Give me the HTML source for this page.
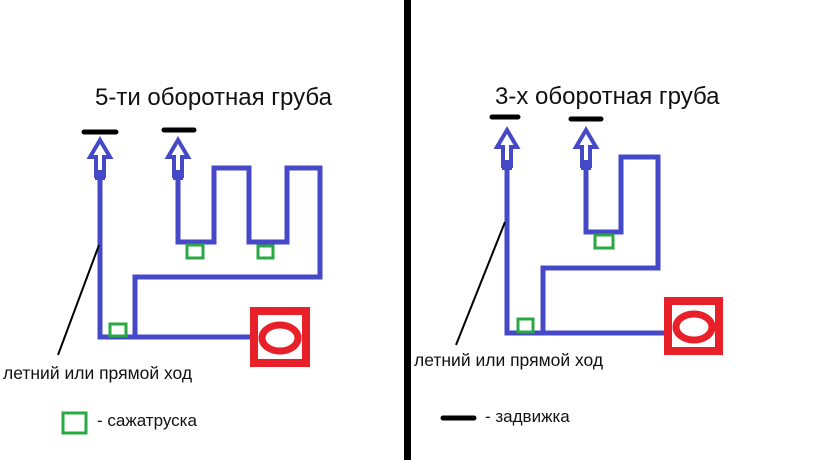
<!DOCTYPE html>
<html><head><meta charset="utf-8"><style>
html,body{margin:0;padding:0;background:#fff;}
svg{display:block}
text{font-family:"Liberation Sans","DejaVu Sans",sans-serif;fill:#111;}
</style></head><body>
<svg width="819" height="460" viewBox="0 0 819 460" xmlns="http://www.w3.org/2000/svg">
<rect width="819" height="460" fill="#fff"/>
<rect x="404" y="0" width="7" height="460" fill="#000"/>

<!-- LEFT -->
<text x="95" y="105" font-size="24">5-ти оборотная груба</text>
<g stroke="#000" stroke-width="5" stroke-linecap="round">
<line x1="84" y1="132" x2="116" y2="132"/>
<line x1="164" y1="130" x2="194" y2="130"/>
</g>
<g fill="none" stroke="#4549c8" stroke-width="5" stroke-linejoin="miter">
<polyline points="100,178 100,337 250,337"/>
<polyline points="135,337 135,277 320,277 320,168 287,168 287,242 249,242 249,168 214,168 214,242 178,242 178,178"/>
<polygon points="100,140 90,157 96,157 96,176 104,176 104,157 110,157" stroke-width="4"/>
<polygon points="178,140 168,157 174,157 174,176 182,176 182,157 188,157" stroke-width="4"/>
</g>
<rect x="95" y="170" width="10" height="10" fill="#4549c8"/>
<rect x="173" y="170" width="10" height="10" fill="#4549c8"/>
<g fill="none" stroke="#2aa843" stroke-width="3">
<rect x="187" y="245" width="16" height="13"/>
<rect x="258" y="246" width="15" height="12"/>
<rect x="110" y="324" width="16" height="12"/>
</g>
<rect x="254" y="311" width="52" height="52" fill="none" stroke="#e8202a" stroke-width="8"/>
<ellipse cx="280" cy="338" rx="18" ry="13" fill="none" stroke="#e8202a" stroke-width="7"/>
<line x1="99" y1="245" x2="58" y2="355" stroke="#000" stroke-width="2"/>
<text x="3" y="379" font-size="17.5">летний или прямой ход</text>
<rect x="63" y="413" width="23" height="20" fill="none" stroke="#2aa843" stroke-width="3"/>
<text x="97" y="426" font-size="17">- сажатруска</text>

<!-- RIGHT -->
<text x="495" y="104" font-size="24">3-х оборотная груба</text>
<g stroke="#000" stroke-width="5" stroke-linecap="round">
<line x1="492" y1="117" x2="518" y2="117"/>
<line x1="571" y1="119" x2="601" y2="119"/>
<line x1="443" y1="418" x2="474" y2="418"/>
</g>
<g fill="none" stroke="#4549c8" stroke-width="5">
<polyline points="507,168 507,333 665,333"/>
<polyline points="543,333 543,268 658,268 658,157 621,157 621,232 586,232 586,168"/>
<polygon points="507,130 497,147 503,147 503,166 511,166 511,147 517,147" stroke-width="4"/>
<polygon points="586,130 576,147 582,147 582,166 590,166 590,147 596,147" stroke-width="4"/>
</g>
<rect x="502" y="160" width="10" height="10" fill="#4549c8"/>
<rect x="581" y="160" width="10" height="10" fill="#4549c8"/>
<g fill="none" stroke="#2aa843" stroke-width="3">
<rect x="595" y="235" width="18" height="13"/>
<rect x="518" y="319" width="15" height="13"/>
</g>
<rect x="668" y="301" width="51" height="50" fill="none" stroke="#e8202a" stroke-width="8"/>
<ellipse cx="694" cy="327" rx="18" ry="13" fill="none" stroke="#e8202a" stroke-width="7"/>
<line x1="505" y1="222" x2="456" y2="345" stroke="#000" stroke-width="2"/>
<text x="414" y="366" font-size="17.5">летний или прямой ход</text>
<text x="485" y="422" font-size="17">- задвижка</text>
</svg>
</body></html>
